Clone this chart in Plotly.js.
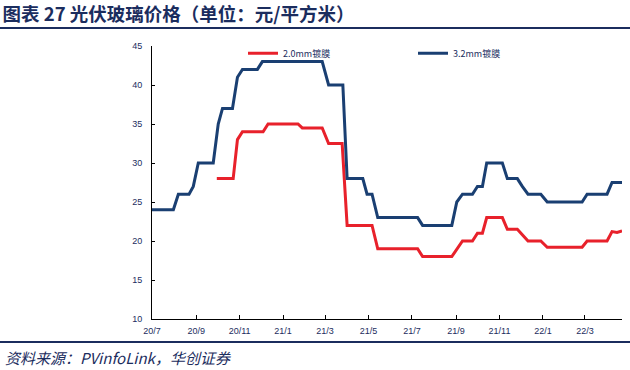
<!DOCTYPE html>
<html>
<head>
<meta charset="utf-8">
<script src="https://cdn.plot.ly/plotly-3.0.1.min.js"></script>
<style>html,body{margin:0;padding:0;background:#fff;}#chart{width:630px;height:370px;}</style>
</head>
<body>
<div id="chart"></div>
<script>
// 3.2mm coated glass (vertices)
const dates32 = ["2020-07-01","2020-07-31","2020-08-07","2020-08-22","2020-08-28","2020-09-04","2020-09-25","2020-10-02","2020-10-08","2020-10-22","2020-10-29","2020-11-05","2020-11-26","2020-12-03","2021-02-25","2021-03-06","2021-03-26","2021-04-01","2021-04-23","2021-04-29","2021-05-06","2021-05-14","2021-07-09","2021-07-16","2021-08-26","2021-09-02","2021-09-10","2021-09-24","2021-10-01","2021-10-08","2021-10-14","2021-11-05","2021-11-12","2021-11-26","2021-12-03","2021-12-11","2021-12-29","2022-01-07","2022-02-25","2022-03-04","2022-04-01","2022-04-08","2022-04-22"];
const price32 = [24,24,26,26,27,30,30,35,37,37,41,42,42,43,43,40,40,28,28,26,26,23,23,22,22,25,26,26,27,27,30,30,28,28,27,26,26,25,25,26,26,27.5,27.5];
// 2.0mm coated glass
const dates20 = ["2020-09-30","2020-10-23","2020-10-29","2020-11-05","2020-12-04","2020-12-11","2021-01-22","2021-01-28","2021-02-25","2021-03-06","2021-03-25","2021-04-01","2021-05-06","2021-05-14","2021-07-09","2021-07-16","2021-08-26","2021-09-10","2021-09-24","2021-10-01","2021-10-08","2021-10-14","2021-11-05","2021-11-12","2021-11-26","2021-12-11","2021-12-29","2022-01-07","2022-02-25","2022-03-04","2022-04-01","2022-04-08","2022-04-15","2022-04-22"];
const price20 = [28,28,33,34,34,35,35,34.5,34.5,32.5,32.5,22,22,19,19,18,18,20,20,21,21,23,23,21.5,21.5,20,20,19.2,19.2,20,20,21.2,21.1,21.3];
const seriesNames = ["2.0mm镀膜","3.2mm镀膜"];
const titleText = "图表 27 光伏玻璃价格（单位：元/平方米）";
const sourceText = "资料来源：PVinfoLink，华创证券";

const navy = "#1b2d5e";
const red = "#e8212b";
const blue = "#1a3f72";

const traces = [
  {x: dates20, y: price20, name: seriesNames[0], type: "scatter", mode: "lines",
   line: {color: red, width: 3}, legend: "legend"},
  {x: dates32, y: price32, name: seriesNames[1], type: "scatter", mode: "lines",
   line: {color: blue, width: 3}, legend: "legend2"}
];

const legendFont = {family: "Noto Sans CJK SC, sans-serif", size: 9, color: navy};
const layout = {
  width: 630, height: 370,
  margin: {l: 152, r: 8, t: 46, b: 51},
  paper_bgcolor: "#fff", plot_bgcolor: "#fff",
  showlegend: true,
  title: {text: "<b>" + titleText + "</b>", x: 0.004, xanchor: "left", xref: "container",
          y: 0.96, yref: "container", yanchor: "middle",
          font: {family: "Noto Sans CJK SC, sans-serif", size: 18.5, color: navy}},
  xaxis: {
    type: "date", range: ["2020-07-01", "2022-04-22"],
    tick0: "2020-07-01", dtick: "M2", tickformat: "%y/%-m",
    showgrid: false, zeroline: false,
    showline: true, linecolor: "#000", linewidth: 1,
    ticks: "inside", ticklen: 4, tickcolor: "#000",
    ticklabelstandoff: 3,
    tickfont: {family: "Liberation Sans, Arial, sans-serif", size: 9, color: navy}
  },
  yaxis: {
    range: [10, 45], dtick: 5, tick0: 10,
    showgrid: false, zeroline: false,
    showline: true, linecolor: "#000", linewidth: 1,
    ticks: "inside", ticklen: 3, tickcolor: "#000",
    ticklabelstandoff: 7,
    tickfont: {family: "Liberation Sans, Arial, sans-serif", size: 9, color: navy}
  },
  legend: {x: (243 - 152) / 470, xanchor: "left", y: 0.973, yanchor: "middle",
           orientation: "h", bgcolor: "rgba(0,0,0,0)", font: legendFont},
  legend2: {x: (413 - 152) / 470, xanchor: "left", y: 0.973, yanchor: "middle",
            orientation: "h", bgcolor: "rgba(0,0,0,0)", font: legendFont},
  shapes: [
    {type: "line", xref: "paper", yref: "paper", x0: -152/470, x1: 478/470,
     y0: (319 - 28) / 273, y1: (319 - 28) / 273, line: {color: navy, width: 2}},
    {type: "line", xref: "paper", yref: "paper", x0: -152/470, x1: 478/470,
     y0: (319 - 342) / 273, y1: (319 - 342) / 273, line: {color: navy, width: 2}}
  ],
  annotations: [
    {text: "<i>" + sourceText + "</i>", xref: "paper", yref: "paper",
     x: -149/470, xanchor: "left", y: (319 - 357) / 273, yanchor: "middle",
     showarrow: false,
     font: {family: "Noto Sans CJK SC, serif", size: 15, color: navy}}
  ]
};

Plotly.newPlot("chart", traces, layout, {staticPlot: true, displayModeBar: false});
</script>
</body>
</html>
